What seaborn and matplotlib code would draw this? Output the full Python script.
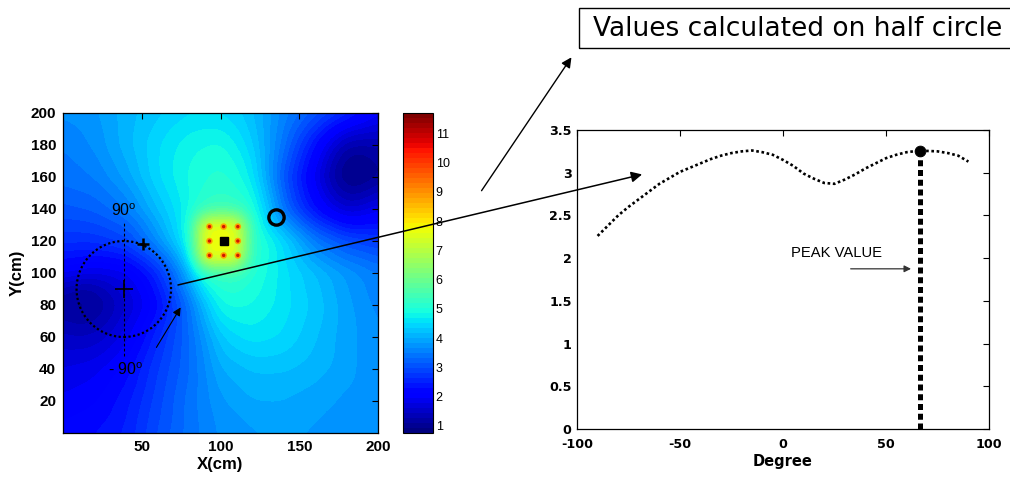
import numpy as np
import matplotlib
matplotlib.use("Agg")
import matplotlib.pyplot as plt
import seaborn as sns
from matplotlib.patches import Circle, Rectangle, ConnectionPatch, FancyArrowPatch

# ---- field map sampled every 10 cm (rows from Y=200 down to Y=0, columns X=0..200) ----
grid_x = list(range(0, 201, 10))
grid_y = list(range(200, -1, -10))
field_rows = [
    [3.7, 3.75, 3.8, 3.95, 4.1, 4.2, 4.3, 4.4, 4.5, 4.5, 4.5, 4.4, 4.2, 3.9, 3.6, 3.35, 3.1, 2.85, 2.6, 2.3, 2.0],
    [3.6, 3.65, 3.75, 3.9, 4.1, 4.25, 4.4, 4.55, 4.65, 4.7, 4.7, 4.55, 4.3, 3.9, 3.5, 3.1, 2.7, 2.25, 1.9, 1.75, 1.65],
    [3.5, 3.6, 3.7, 3.9, 4.1, 4.3, 4.5, 4.65, 4.8, 4.85, 4.9, 4.7, 4.4, 3.9, 3.4, 2.85, 2.3, 1.75, 1.3, 1.25, 1.3],
    [3.45, 3.5, 3.6, 3.8, 4.0, 4.25, 4.5, 4.7, 4.85, 4.95, 5.0, 4.85, 4.55, 3.9, 3.25, 2.65, 2.1, 1.45, 1.0, 0.95, 1.15],
    [3.4, 3.45, 3.5, 3.7, 3.9, 4.2, 4.5, 4.7, 4.9, 5.0, 5.1, 4.95, 4.65, 3.9, 3.1, 2.5, 1.9, 1.3, 0.9, 0.9, 1.1],
    [3.25, 3.3, 3.35, 3.5, 3.7, 4.0, 4.35, 4.6, 4.85, 5.1, 5.2, 5.1, 4.85, 4.1, 3.25, 2.6, 2.1, 1.55, 1.2, 1.25, 1.5],
    [3.1, 3.15, 3.2, 3.35, 3.5, 3.85, 4.2, 4.5, 4.85, 5.35, 5.45, 5.4, 5.0, 4.3, 3.4, 2.8, 2.3, 1.9, 1.6, 1.7, 1.9],
    [2.9, 2.9, 2.95, 3.05, 3.2, 3.5, 3.95, 4.4, 4.9, 7.7, 7.7, 7.7, 5.2, 4.5, 3.9, 3.4, 2.9, 2.6, 2.3, 2.3, 2.35],
    [2.7, 2.7, 2.7, 2.8, 2.9, 3.3, 3.7, 4.25, 4.9, 7.7, 7.7, 7.7, 5.25, 4.9, 4.5, 4.0, 3.5, 3.25, 3.0, 2.9, 2.8],
    [2.35, 2.3, 2.25, 2.3, 2.4, 2.75, 3.15, 3.75, 4.5, 7.7, 7.7, 7.7, 5.15, 4.9, 4.55, 4.2, 3.85, 3.6, 3.4, 3.3, 3.15],
    [2.0, 1.9, 1.8, 1.85, 1.9, 2.2, 2.6, 3.3, 4.1, 5.2, 5.35, 5.35, 5.05, 4.85, 4.6, 4.4, 4.2, 4.0, 3.8, 3.65, 3.5],
    [1.4, 1.2, 1.25, 1.5, 1.75, 2.0, 2.4, 3.0, 3.75, 4.7, 5.05, 5.1, 4.95, 4.8, 4.6, 4.4, 4.25, 4.05, 3.85, 3.7, 3.55],
    [1.1, 1.0, 1.1, 1.3, 1.6, 1.9, 2.2, 2.8, 3.4, 4.2, 4.85, 4.9, 4.85, 4.75, 4.6, 4.45, 4.3, 4.1, 3.9, 3.75, 3.6],
    [1.3, 1.2, 1.25, 1.45, 1.75, 2.05, 2.4, 2.85, 3.35, 4.0, 4.6, 4.7, 4.75, 4.65, 4.55, 4.4, 4.25, 4.1, 3.9, 3.8, 3.65],
    [1.5, 1.45, 1.5, 1.65, 1.9, 2.2, 2.6, 2.95, 3.3, 3.8, 4.3, 4.5, 4.6, 4.55, 4.5, 4.35, 4.2, 4.05, 3.9, 3.8, 3.7],
    [1.65, 1.65, 1.7, 1.85, 2.05, 2.35, 2.7, 3.0, 3.3, 3.7, 4.15, 4.3, 4.4, 4.4, 4.35, 4.25, 4.15, 4.05, 3.9, 3.8, 3.7],
    [1.8, 1.85, 1.9, 2.05, 2.2, 2.5, 2.8, 3.05, 3.3, 3.65, 4.0, 4.1, 4.2, 4.2, 4.2, 4.15, 4.1, 4.0, 3.9, 3.8, 3.7],
    [1.9, 1.95, 2.0, 2.15, 2.3, 2.55, 2.85, 3.1, 3.35, 3.6, 3.9, 4.0, 4.1, 4.1, 4.1, 4.05, 4.0, 3.9, 3.85, 3.8, 3.7],
    [2.0, 2.05, 2.1, 2.25, 2.4, 2.65, 2.9, 3.15, 3.4, 3.6, 3.8, 3.9, 4.0, 4.0, 4.0, 3.95, 3.9, 3.85, 3.8, 3.75, 3.7],
    [2.1, 2.15, 2.2, 2.3, 2.45, 2.7, 2.95, 3.15, 3.4, 3.55, 3.75, 3.8, 3.9, 3.95, 3.95, 3.9, 3.85, 3.8, 3.8, 3.75, 3.7],
    [2.2, 2.25, 2.3, 2.4, 2.5, 2.75, 3.0, 3.2, 3.4, 3.55, 3.7, 3.75, 3.8, 3.85, 3.9, 3.85, 3.8, 3.8, 3.8, 3.75, 3.7],
]
field_min, field_max = 0.76, 11.69
colorbar_ticks = [1, 2, 3, 4, 5, 6, 7, 8, 9, 10, 11]

# sensor layout and markers on the map (cm)
sensor_x = [93, 102, 111]
sensor_y = [111, 120, 129]
source_xy = (102, 120)
ring_xy = (135, 135)
probe_center = (38.6, 90)
probe_radius = 30
probe_plus = (51, 118)

map_xticks = [50, 100, 150, 200]
map_yticks = [20, 40, 60, 80, 100, 120, 140, 160, 180, 200]

# ---- values along the half circle ----
degrees = [-90, -85, -80, -75, -70, -65, -60, -55, -50, -45, -40, -35, -30, -25, -20, -15, -10, -5,
           0, 5, 10, 15, 20, 25, 30, 35, 40, 45, 50, 55, 60, 65, 70, 75, 80, 85, 90]
half_circle_values = [2.26, 2.38, 2.50, 2.60, 2.69, 2.78, 2.87, 2.94, 3.01, 3.06, 3.11, 3.16, 3.20,
                      3.23, 3.25, 3.26, 3.24, 3.21, 3.15, 3.08, 2.99, 2.93, 2.88, 2.87, 2.92, 2.98,
                      3.05, 3.11, 3.17, 3.21, 3.24, 3.255, 3.255, 3.25, 3.23, 3.20, 3.13]
peak_deg, peak_val = 66.5, 3.26

sns.set_style("white")
plt.rcParams["font.family"] = ["Liberation Sans", "DejaVu Sans"]
plt.rcParams["axes.linewidth"] = 0.9
plt.rcParams["mathtext.default"] = "regular"
plt.rcParams["axes.unicode_minus"] = False
for key in ["text.color", "axes.labelcolor", "xtick.color", "ytick.color", "axes.edgecolor"]:
    plt.rcParams[key] = "black"

W, H = 1010, 479
fig = plt.figure(figsize=(W / 100, H / 100), dpi=100)


def fbox(left, top, right, bottom):
    return [left / W, 1 - bottom / H, (right - left) / W, (bottom - top) / H]


ax1 = fig.add_axes(fbox(63, 113, 378, 433))
cax = fig.add_axes(fbox(403, 113, 433, 433))
ax2 = fig.add_axes(fbox(577, 130, 989, 429))

# ---- field map ----
field = np.array(field_rows)
jet64 = plt.get_cmap("jet", 64)
im = ax1.imshow(field, cmap=jet64, vmin=field_min, vmax=field_max, origin="upper",
                extent=(grid_x[0] - 5, grid_x[-1] + 5, grid_y[-1] - 5, grid_y[0] + 5),
                aspect="auto", interpolation="bicubic")
ax1.set_xlim(0, 200)
ax1.set_ylim(0, 200)
ax1.set_xticks(map_xticks)
ax1.set_yticks(map_yticks)
ax1.tick_params(direction="in", top=True, right=True, length=4, width=0.8,
                labelsize=11, pad=5)
for lab in ax1.get_xticklabels() + ax1.get_yticklabels():
    lab.set_fontweight("bold")
ax1.set_xlabel("X(cm)", fontsize=12, fontweight="bold", labelpad=2)
ax1.set_ylabel("Y(cm)", fontsize=12, fontweight="bold", labelpad=4)

# sensor dots around the source
sx, sy = np.meshgrid(sensor_x, sensor_y)
sns.scatterplot(x=sx.ravel(), y=sy.ravel(), ax=ax1, s=22, color="#ffa000", edgecolor="none",
                legend=False, zorder=3)
sns.scatterplot(x=sx.ravel(), y=sy.ravel(), ax=ax1, s=6, color="#d01800", edgecolor="none",
                legend=False, zorder=4)
ax1.plot(*source_xy, marker="s", ms=6, color="k", zorder=5)
ax1.plot(*ring_xy, marker="o", ms=11, mfc="none", mec="k", mew=2.4, zorder=5)

# half circle probe
ax1.add_patch(Circle(probe_center, probe_radius, fill=False, ec="k", lw=1.6,
                     ls=(0, (1, 1.1)), zorder=4))
ax1.plot([probe_center[0]] * 2, [48, 131], color="k", lw=0.8, ls=(0, (2.5, 2)), zorder=4)
ax1.plot(*probe_center, marker="+", ms=13, mew=1.2, color="k", zorder=5)
ax1.plot(*probe_plus, marker="+", ms=8, mew=1.8, color="k", zorder=5)
ax1.text(probe_center[0], 134, "90$^{o}$", ha="center", va="bottom", fontsize=11.5)
ax1.text(probe_center[0] + 1, 45, "- 90$^{o}$", ha="center", va="top", fontsize=11.5)
ax1.annotate("", xy=(75.6, 80), xytext=(58.4, 52),
             arrowprops=dict(arrowstyle="-|>", color="k", lw=0.8, mutation_scale=12))

# ---- colorbar ----
cb = fig.colorbar(im, cax=cax, ticks=colorbar_ticks)
cb.outline.set_linewidth(0.8)
cax.tick_params(direction="in", length=4, width=0.7, labelsize=9, pad=2, colors="black")

# ---- half circle profile ----
sns.lineplot(x=degrees, y=half_circle_values, ax=ax2, color="k", lw=1.9,
             ls=(0, (1, 1)), sort=True, legend=False)
ax2.plot([peak_deg, peak_deg], [0, peak_val], color="k", lw=3.6, ls=(0, (1.2, 0.75)))
sns.scatterplot(x=[peak_deg], y=[peak_val], ax=ax2, s=60, color="k", edgecolor="k", zorder=5,
                legend=False)
ax2.set_xlim(-100, 100)
ax2.set_ylim(0, 3.5)
ax2.set_xticks([-100, -50, 0, 50, 100])
ax2.set_yticks([0, 0.5, 1, 1.5, 2, 2.5, 3, 3.5])
ax2.set_yticklabels(["0", "0.5", "1", "1.5", "2", "2.5", "3", "3.5"])
ax2.tick_params(direction="in", top=True, right=True, length=4, width=0.8)
ax2.tick_params(axis="x", pad=6.5)
ax2.tick_params(axis="y", pad=3.8)
for lab in ax2.get_xticklabels() + ax2.get_yticklabels():
    lab.set_fontweight("bold")
    lab.set_fontfamily("DejaVu Sans")
    lab.set_fontsize(9.2)
ax2.set_xlabel("Degree", fontsize=10.5, fontweight="bold", family="DejaVu Sans", labelpad=2)
ax2.set_ylabel("")
ax2.text(4, 2.06, "PEAK VALUE", fontsize=10.6, va="center", ha="left")
ax2.annotate("", xy=(63.5, 1.875), xytext=(31.5, 1.875),
             arrowprops=dict(arrowstyle="-|>", color="#333333", lw=0.9, mutation_scale=10))

# link from the probe circle to the profile
link = ConnectionPatch(xyA=(73, 92.5), coordsA=ax1.transData,
                       xyB=(-68.4, 2.98), coordsB=ax2.transData,
                       arrowstyle="-|>", mutation_scale=16, lw=1.1, color="k", zorder=10)
fig.add_artist(link)

# caption box with arrow pointing to it
fig.add_artist(Rectangle((579 / W, 1 - 48 / H), (1020 - 579) / W, 40 / H,
                         transform=fig.transFigure, fill=False, ec="k", lw=1))
fig.text(593 / W, 1 - 29 / H, "Values calculated on half circle", fontsize=19,
         family="DejaVu Sans", ha="left", va="center")
fig.add_artist(FancyArrowPatch((480 / W, 1 - 193 / H), (573 / W, 1 - 55 / H),
                               transform=fig.transFigure, arrowstyle="-|>",
                               mutation_scale=15, lw=1.0, color="k"))

fig.savefig("out.png", dpi=100)
